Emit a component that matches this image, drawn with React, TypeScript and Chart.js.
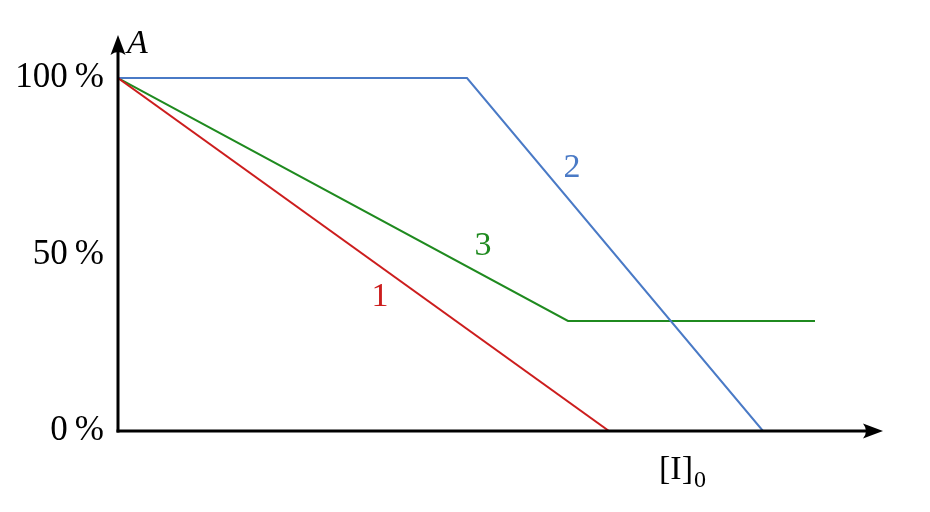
import React, { useEffect, useRef } from "react";
import { Chart, registerables } from "chart.js";

Chart.register(...registerables);

// Data (x in arbitrary [I]0 units, y in % of A)
const redX = [0, 4.91];
const redY = [100, 0];
const blueX = [0, 3.49, 6.45];
const blueY = [100, 100, 0];
const greenX = [0, 4.5, 6.97];
const greenY = [100, 31.2, 31.2];

const yTicks = [0, 50, 100];
const yTickLabels = ["0\u2009%", "50\u2009%", "100\u2009%"];

const curveLabels = ["1", "2", "3"];
const curveLabelX = [2.62, 4.54, 3.65];
const curveLabelY = [38.0, 74.5, 52.4];

const colors = ["#cc1d1d", "#4a7ac6", "#1f8a1f"];

const X_MAX = 7.65;
const Y_MAX = 112.2;

const SERIF = "'Liberation Serif', 'DejaVu Serif', serif";

const toPts = (xs: number[], ys: number[]) => xs.map((x, i) => ({ x, y: ys[i] }));

const overlay = {
  id: "overlay",
  afterDraw(chart: any) {
    const { ctx, scales } = chart;
    const xs = scales.x;
    const ys = scales.y;
    const x0 = xs.getPixelForValue(0);
    const y0 = ys.getPixelForValue(0);
    const xEnd = xs.getPixelForValue(X_MAX);
    const yTop = ys.getPixelForValue(Y_MAX);
    ctx.save();
    ctx.strokeStyle = "#000";
    ctx.fillStyle = "#000";
    ctx.lineWidth = 3;
    ctx.lineCap = "butt";
    // y axis
    ctx.beginPath();
    ctx.moveTo(x0, y0 + 1.5);
    ctx.lineTo(x0, yTop + 12);
    ctx.stroke();
    // x axis
    ctx.beginPath();
    ctx.moveTo(x0 - 1.5, y0);
    ctx.lineTo(xEnd - 12, y0);
    ctx.stroke();
    // arrows
    ctx.beginPath();
    ctx.moveTo(x0, yTop);
    ctx.lineTo(x0 - 7.5, yTop + 20);
    ctx.quadraticCurveTo(x0, yTop + 14, x0 + 7.5, yTop + 20);
    ctx.closePath();
    ctx.fill();
    ctx.beginPath();
    ctx.moveTo(xEnd, y0);
    ctx.lineTo(xEnd - 20, y0 - 7.5);
    ctx.quadraticCurveTo(xEnd - 14, y0, xEnd - 20, y0 + 7.5);
    ctx.closePath();
    ctx.fill();

    // curve labels
    ctx.textAlign = "center";
    ctx.textBaseline = "middle";
    ctx.font = `34px ${SERIF}`;
    curveLabels.forEach((t, i) => {
      ctx.fillStyle = colors[i];
      ctx.fillText(t, xs.getPixelForValue(curveLabelX[i]), ys.getPixelForValue(curveLabelY[i]));
    });

    // axis titles
    ctx.fillStyle = "#000";
    ctx.font = `italic 34px ${SERIF}`;
    ctx.textAlign = "left";
    ctx.fillText("A", x0 + 9, ys.getPixelForValue(109.5));

    ctx.font = `34px ${SERIF}`;
    const ty = ys.getPixelForValue(-11.2);
    const tx = xs.getPixelForValue(5.41);
    ctx.fillText("[I]", tx, ty);
    const w = ctx.measureText("[I]").width;
    ctx.font = `24px ${SERIF}`;
    ctx.fillText("0", tx + w + 1, ty + 10);
    ctx.restore();
  },
};

export default function App() {
  const ref = useRef<HTMLCanvasElement | null>(null);
  useEffect(() => {
    document.body.style.margin = "0";
    const chart = new Chart(ref.current as HTMLCanvasElement, {
      type: "scatter",
      data: {
        datasets: [
          { data: toPts(redX, redY), borderColor: colors[0] },
          { data: toPts(blueX, blueY), borderColor: colors[1] },
          { data: toPts(greenX, greenY), borderColor: colors[2] },
        ].map((d) => ({
          ...d,
          showLine: true,
          borderWidth: 2,
          pointRadius: 0,
          pointHoverRadius: 0,
          tension: 0,
          fill: false,
        })),
      },
      options: {
        animation: false,
        responsive: false,
        maintainAspectRatio: false,
        layout: { padding: { left: 0, right: 47, top: 35, bottom: 81 } },
        plugins: { legend: { display: false }, tooltip: { enabled: false } },
        scales: {
          x: {
            type: "linear",
            min: 0,
            max: X_MAX,
            display: false,
          },
          y: {
            type: "linear",
            min: 0,
            max: Y_MAX,
            afterFit: (scale: any) => {
              scale.width = 118;
            },
            afterBuildTicks: (scale: any) => {
              scale.ticks = yTicks.map((v) => ({ value: v }));
            },
            grid: { display: false, drawTicks: false },
            border: { display: false },
            ticks: {
              padding: 14,
              color: "#000",
              font: { family: SERIF, size: 35 },
              callback: (v: any) => {
                const i = yTicks.indexOf(Number(v));
                return i >= 0 ? yTickLabels[i] : "";
              },
            },
          },
        },
      },
      plugins: [overlay],
    });
    return () => chart.destroy();
  }, []);
  return (
    <div style={{ width: 930, height: 512, background: "#fff" }}>
      <canvas ref={ref} width={930} height={512} />
    </div>
  );
}
